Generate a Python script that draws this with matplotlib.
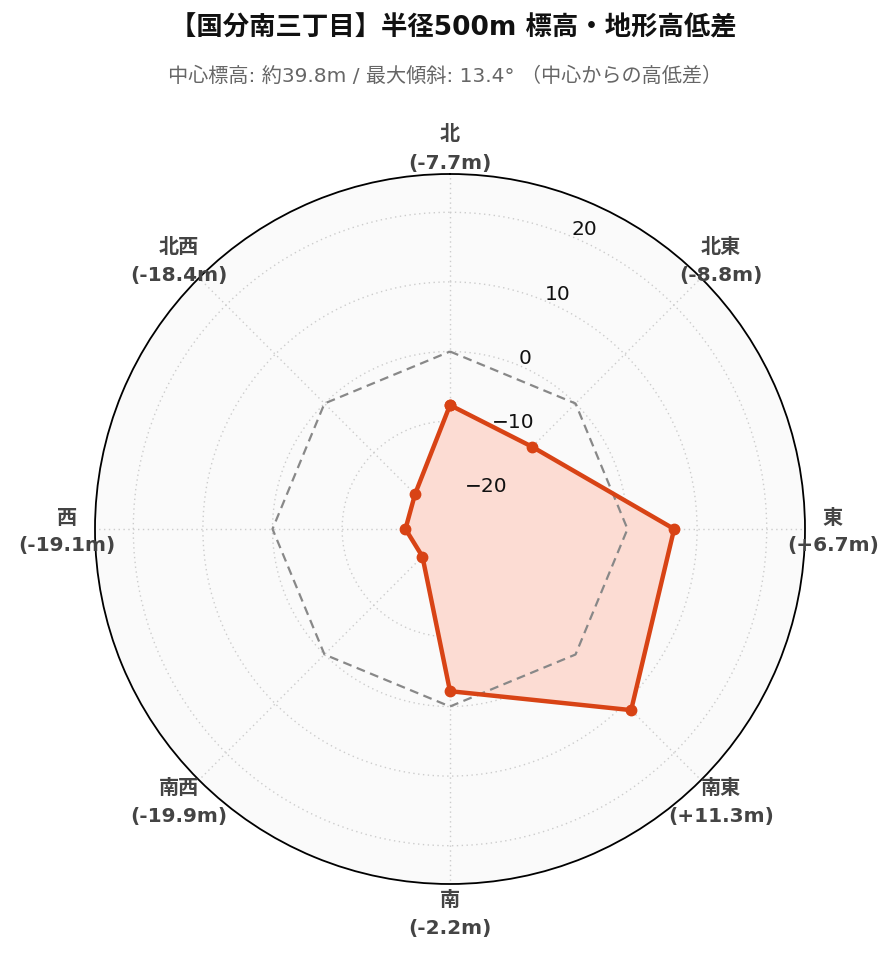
import numpy as np
import matplotlib
matplotlib.use("Agg")
import matplotlib.pyplot as plt
from matplotlib.transforms import offset_copy

FAM = ['DejaVu Sans', 'Noto Sans CJK JP']
plt.rcParams['font.family'] = FAM

directions = ['北', '北東', '東', '南東', '南', '南西', '西', '北西']
values = [-7.7, -8.8, 6.7, 11.3, -2.2, -19.9, -19.1, -18.4]
r_ticks = [-20, -10, 0, 10, 20]
r_tick_labels = ['−20', '−10', '0', '10', '20']
r_range = (-25.5, 25.5)
title = '【国分南三丁目】半径500m 標高・地形高低差'
subtitle = '中心標高: 約39.8m / 最大傾斜: 13.4° （中心からの高低差）'

line_color = '#d84315'
fill_color = '#fcdcd3'

fig = plt.figure(figsize=(8.96, 9.62), dpi=100)
W, H = 896, 962
cx, cy, R = 450, 530, 355
ax = fig.add_axes([(cx - R) / W, (H - cy - R) / H, 2 * R / W, 2 * R / H], projection='polar')
ax.set_theta_zero_location('N')
ax.set_theta_direction(-1)
ax.set_facecolor('#fafafa')
ax.set_ylim(*r_range)

n = len(directions)
theta = np.deg2rad(np.arange(n) * 360.0 / n)
tc = np.append(theta, theta[0])

ax.set_xticks(theta)
ax.set_xticklabels([])
ax.set_yticks(r_ticks)
ax.set_yticklabels([])
ax.grid(True, color='#cccccc', linestyle=(0, (1, 2.5)), linewidth=1.0)
ax.spines['polar'].set_color('black')
ax.spines['polar'].set_linewidth(1.3)
ax.tick_params(length=0)

# zero reference
ax.plot(tc, np.zeros_like(tc), color='#888888', linestyle=(0, (4, 2.5)), linewidth=1.6, zorder=3)

vc = np.append(values, values[0])
ax.fill(tc, vc, color=fill_color, zorder=2, linewidth=0)
ax.plot(tc, vc, color=line_color, linewidth=3.2, marker='o', markersize=7.5, zorder=4,
        solid_joinstyle='miter')

# radial labels
lab_theta = np.deg2rad(22.5)
tr = offset_copy(ax.transData, fig=fig, x=0.5, y=5.5, units='points')
for v, s in zip(r_ticks, r_tick_labels):
    ax.text(lab_theta, v, s, transform=tr, ha='left', va='center', fontsize=14.5,
            color='#111111', zorder=5)

# direction labels
rl = 383 / (2 * R)
for th, d, v in zip(theta, directions, values):
    x = 0.5 + rl * np.sin(th)
    y = 0.5 + rl * np.cos(th) - 2 / (2 * R)
    ax.text(x, y, f'{d}\n({v:+.1f}m)', transform=ax.transAxes,
            ha='center', va='center', fontsize=14.5, fontweight='bold', color='#444444',
            linespacing=1.6, clip_on=False)

fig.text(453 / W, 1 - 28 / H, title, ha='center', va='center', fontsize=19, fontweight='bold', color='#111111')
fig.text(445 / W, 1 - 76 / H, subtitle, ha='center', va='center', fontsize=14.5, color='#666666')

fig.savefig('out.png', dpi=100, facecolor='white')
